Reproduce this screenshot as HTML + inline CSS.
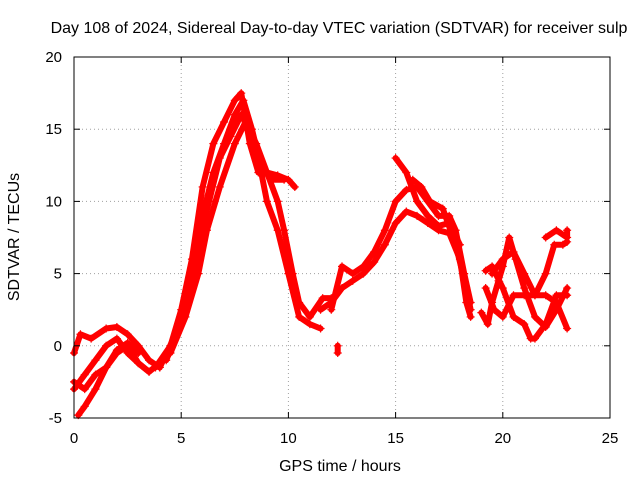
<!DOCTYPE html>
<html><head><meta charset="utf-8"><style>
body{margin:0;background:#fff;font-family:"Liberation Sans",sans-serif}
svg text{font-family:"Liberation Sans",sans-serif;font-size:15px;fill:#000}
svg text.big{font-size:16px}
</style></head><body>
<svg width="640" height="480">
<g id="grid"></g>
<g id="series"></g>
<rect x="74" y="57" width="536" height="361" fill="none" stroke="#000"/>
<g id="axes"></g>
<text class="big" x="339" y="33" text-anchor="middle">Day 108 of 2024, Sidereal Day-to-day VTEC variation (SDTVAR) for receiver sulp</text>
<text class="big" x="340" y="471" text-anchor="middle">GPS time / hours</text>
<text class="big" x="19" y="237" text-anchor="middle" transform="rotate(-90 19 237)">SDTVAR / TECUs</text>
</svg>
<script>
const xTicks=[0,5,10,15,20,25];
const yTicks=[-5,0,5,10,15,20];
const track1=[[3.8,-1.5],[4.5,0],[5,2.5],[5.5,6],[6,11],[6.5,14],[7,15.5],[7.5,17],[7.8,17.5],[8.2,14],[8.6,12],[9,12],[9.5,11.8],[10,11.5],[10.3,11]];
const track2=[[4,-1.5],[4.8,1],[5.3,3],[5.8,7],[6.3,10],[6.8,13],[7.3,14.5],[7.8,16],[8.2,15],[8.6,13],[9,10],[9.5,8],[10,5],[10.5,2],[11,1.5],[11.5,1.2]];
const track3=[[4.5,-0.5],[5.2,2],[5.8,5],[6.2,8],[6.8,11],[7.5,14],[8,15.5],[8.5,14],[9,12],[9.5,10],[9.8,8],[10.2,5],[10.5,3],[11,2],[11.6,3.3],[12,3.3]];
const track3b=[[4.3,-1],[5,1.5],[5.6,4.5],[6,9],[6.5,12],[7,14],[7.5,16],[7.9,17],[8.3,15],[8.7,12.5],[9.2,11.5],[9.8,11.5]];
const track4=[[0,-3],[0.5,-2],[1,-1],[1.5,0],[2,0.5],[2.5,-0.5],[3,-1.2],[3.5,-1.8],[4,-1.2]];
const track5=[[0,-0.5],[0.3,0.8],[0.8,0.5],[1.5,1.2],[2,1.3],[2.5,0.8],[3,0],[3.5,-1],[4,-1.5]];
const track6=[[0.2,-4.8],[0.5,-4.2],[1,-3],[1.5,-1.5],[2,-0.5],[2.5,0],[3,-1.2],[3.5,-1.8]];
const track7=[[0,-2.5],[0.5,-3],[1,-2],[1.5,-1.5],[2,-0.3],[2.5,0.2],[3,-0.5]];
const track8=[[11.5,2.5],[12,3],[12.5,4],[13,4.5],[13.5,5],[14,5.8],[14.5,7],[15,8.5],[15.5,9.3],[16,9],[16.5,8.5],[17,8],[17.5,7.8],[18,6],[18.3,3],[18.5,2]];
const track9=[[12,2.5],[12.5,5.5],[13,5],[13.5,5.5],[14,6.5],[14.5,8],[15,10],[15.5,10.8],[16,11],[16.5,10],[17,9],[17.5,9],[17.8,8],[18.2,5],[18.5,3]];
const track10=[[15,13],[15.5,12],[16,10],[16.5,9],[17,8.3],[17.5,8.5],[18,7]];
const track11=[[15.8,11.5],[16.2,11],[16.6,10],[17.2,9.5],[17.8,7],[18.3,4],[18.5,2.5]];
const track12=[[12.3,-0.5],[12.3,0]];
const track13=[[19,2.3],[19.3,1.5],[19.5,3],[19.8,4.5],[20,5.5],[20.3,7.5],[20.6,6],[21,4],[21.5,2],[22,1.3],[22.5,2.5],[23,4]];
const track14=[[19.2,5.2],[19.5,5.5],[20,4],[20.5,2],[21,1.5],[21.3,0.5],[21.5,0.5],[22,1.5],[22.5,3.5],[23,3.5]];
const track15=[[19.2,4],[19.6,2.5],[20,2],[20.5,3.5],[21,3.5],[21.5,3.5],[22,5],[22.4,7],[22.8,7],[23,7.2]];
const track16=[[19.5,5],[20,6],[20.5,6.5],[21,5],[21.5,3.5],[22,3.5],[22.5,3],[23,1.2]];
const track17=[[22,7.5],[22.5,8],[23,7.5],[23,8]];
const tracks=[track1,track2,track3,track3b,track4,track5,track6,track7,track8,track9,track10,track11,track12,track13,track14,track15,track16,track17];
const NS="http://www.w3.org/2000/svg";
const X=v=>74+v*(536/25);
const Y=v=>418-(v+5)*(361/25);
function mk(t,a,p){const e=document.createElementNS(NS,t);for(const k in a)e.setAttribute(k,a[k]);p.appendChild(e);return e;}
const grid=document.getElementById('grid'),axes=document.getElementById('axes'),ser=document.getElementById('series');
xTicks.forEach(t=>{const x=X(t);
 if(t>0&&t<25){const l=mk('line',{x1:x,x2:x,y1:57,y2:418,stroke:'#a0a0a0','stroke-dasharray':'1,3'},grid);}
 mk('line',{x1:x,x2:x,y1:418,y2:412,stroke:'#000'},axes);mk('line',{x1:x,x2:x,y1:57,y2:63,stroke:'#000'},axes);
 const tx=mk('text',{x:x,y:443,'text-anchor':'middle'},axes);tx.textContent=t;
 });
yTicks.forEach(t=>{const y=Y(t);
 if(t>-5&&t<20){const l=mk('line',{x1:74,x2:610,y1:y,y2:y,stroke:'#a0a0a0','stroke-dasharray':'1,3'},grid);}
 mk('line',{x1:74,x2:80,y1:y,y2:y,stroke:'#000'},axes);mk('line',{x1:610,x2:604,y1:y,y2:y,stroke:'#000'},axes);
 const tx=mk('text',{x:62,y:y+5,'text-anchor':'end'},axes);tx.textContent=t;
 });
tracks.forEach((tr,i)=>{
 const g=mk('g',{},ser);
 
 
 mk('polyline',{points:tr.map(p=>X(p[0])+','+Y(p[1])).join(' '),fill:'none',stroke:'#f00','stroke-width':6,'stroke-linejoin':'round','stroke-linecap':'round'},g);
 tr.forEach(p=>{const x=X(p[0]),y=Y(p[1]);
  mk('path',{d:`M${x-4},${y}H${x+4}M${x},${y-4}V${y+4}`,stroke:'#f00','stroke-width':1.2},g);});
});
</script>
</body></html>
